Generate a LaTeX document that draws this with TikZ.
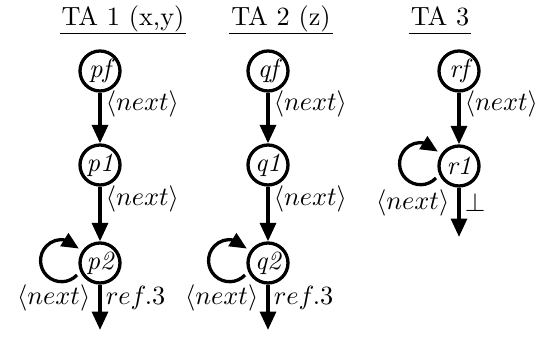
\documentclass[tikz,border=0pt]{standalone}
\usetikzlibrary{arrows.meta,bending}
\begin{document}
\begin{tikzpicture}[x=0.38pt,y=-0.38pt,
  st/.style={circle,draw,line width=1.25pt,minimum size=15.2pt,inner sep=0pt,font=\itshape},
  arr/.style={line width=1.4pt,-{Triangle[length=7pt,width=6pt]}},
  loopa/.style={line width=1.25pt,-{Triangle[length=6.5pt,width=5.6pt,flex]}},
  lblr/.style={inner sep=1.5pt,anchor=west},
  lbll/.style={inner sep=3pt,anchor=east},
  ttl/.style={inner sep=0pt,anchor=base},
  uline/.style={line width=0.4pt}]
\useasboundingbox (0,0) rectangle (538,338);
% titles
\node[ttl] (t1) at (123,26) {TA 1 (x,y)};
\node[ttl] (t2) at (281,26) {TA 2 (z)};
\node[ttl] (t3) at (440,26) {TA 3};
\foreach \t in {t1,t2,t3}
  \draw[uline] ([xshift=-0.5pt,yshift=-2.7pt]\t.base west) -- ([xshift=0.5pt,yshift=-2.7pt]\t.base east);
% TA 1
\node[st] (pf) at (100,71) {pf};
\node[st] (p1) at (100,165) {p1};
\node[st] (p2) at (100,263) {p2};
\coordinate (pe) at (100,330);
\draw[arr] (pf) -- node[lblr,pos=0.22]{$\langle next\rangle$} (p1);
\draw[arr] (p1) -- node[lblr,pos=0.22]{$\langle next\rangle$} (p2);
\draw[loopa] ([shift={(-23,12)}]p2.center) arc[start angle=-43,delta angle=-282,radius=8pt];
\draw[arr] (p2) -- node[lblr,pos=0.3]{$ref.3$} node[lbll,pos=0.3]{$\langle next\rangle$} (pe);
% TA 2
\node[st] (qf) at (268,71) {qf};
\node[st] (q1) at (268,165) {q1};
\node[st] (q2) at (268,263) {q2};
\coordinate (qe) at (268,330);
\draw[arr] (qf) -- node[lblr,pos=0.22]{$\langle next\rangle$} (q1);
\draw[arr] (q1) -- node[lblr,pos=0.22]{$\langle next\rangle$} (q2);
\draw[loopa] ([shift={(-23,12)}]q2.center) arc[start angle=-43,delta angle=-282,radius=8pt];
\draw[arr] (q2) -- node[lblr,pos=0.3]{$ref.3$} node[lbll,pos=0.3]{$\langle next\rangle$} (qe);
% TA 3
\node[st] (rf) at (459,71) {rf};
\node[st] (r1) at (459,166) {r1};
\coordinate (re) at (459,237);
\draw[arr] (rf) -- node[lblr,pos=0.22]{$\langle next\rangle$} (r1);
\draw[loopa] ([shift={(-23,12)}]r1.center) arc[start angle=-43,delta angle=-282,radius=8pt];
\draw[arr] (r1) -- node[lblr,pos=0.3]{$\bot$} node[lbll,pos=0.3]{$\langle next\rangle$} (re);
\end{tikzpicture}
\end{document}
